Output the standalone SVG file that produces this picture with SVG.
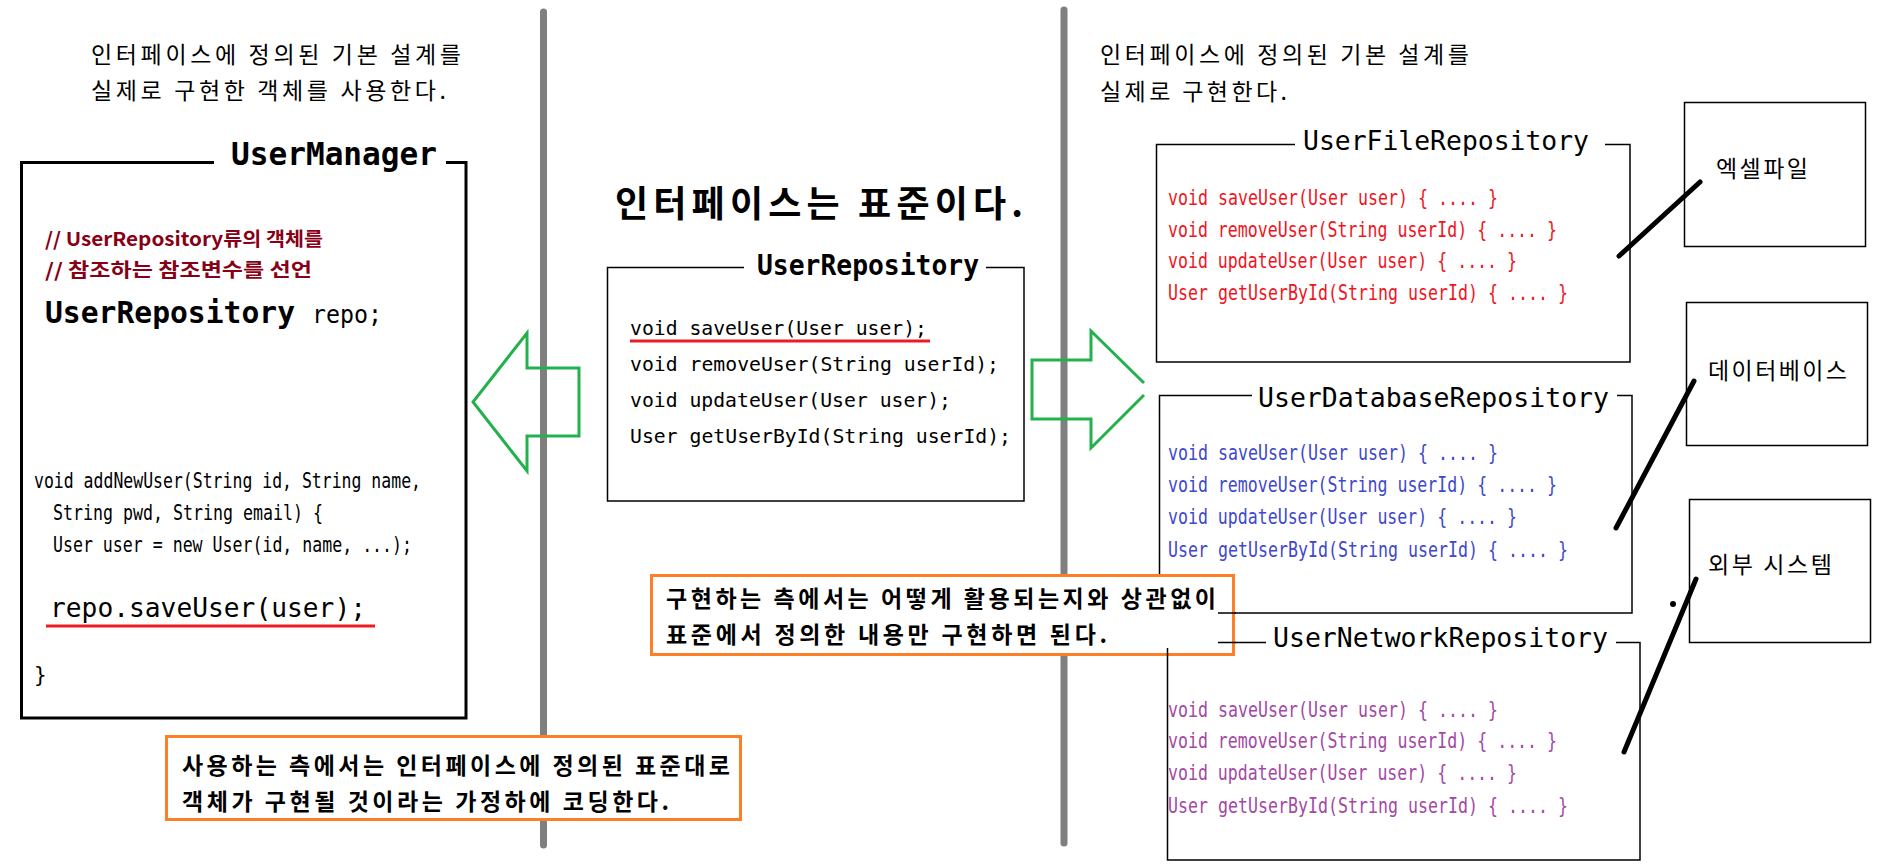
<svg xmlns="http://www.w3.org/2000/svg" width="1898" height="868" viewBox="0 0 1898 868">
<style>
.ko{font-family:"Noto Sans CJK KR","Noto Sans",sans-serif;fill:#000}
.kob{font-family:"Noto Sans CJK KR","Noto Sans",sans-serif;font-weight:bold;fill:#000}
.mono{font-family:"DejaVu Sans Mono","Liberation Mono",monospace;fill:#000}
.nar{font-family:"DejaVu Sans Mono","Liberation Mono",monospace;fill:#000}
.box{fill:none;stroke:#000;stroke-width:1.5}
.thick{fill:none;stroke:#000;stroke-width:3}
.orange{fill:#fff;stroke:#FF7F27;stroke-width:3}
.green{fill:none;stroke:#22B14C;stroke-width:3}
.link{stroke:#000;stroke-width:5;stroke-linecap:round;fill:none}
.under{stroke:#ED1C24;stroke-width:3}
.cmt{font-family:"Noto Sans CJK KR","Noto Sans",sans-serif;font-weight:bold;fill:#880015}
</style>
<rect width="1898" height="868" fill="#fff"/>
<g id="dividers" stroke="#7F7F7F" stroke-width="7" stroke-linecap="round">
<line x1="543.5" y1="12" x2="543.5" y2="845"/>
<line x1="1064" y1="10" x2="1064" y2="843"/>
</g>
<g id="captions">
<text class="ko" font-size="23" x="91" y="63" textLength="370" lengthAdjust="spacing">인터페이스에 정의된 기본 설계를</text>
<text class="ko" font-size="23" x="91" y="99" textLength="355" lengthAdjust="spacing">실제로 구현한 객체를 사용한다.</text>
<text class="ko" font-size="23" x="1100" y="63" textLength="369" lengthAdjust="spacing">인터페이스에 정의된 기본 설계를</text>
<text class="ko" font-size="23" x="1100" y="100" textLength="187" lengthAdjust="spacing">실제로 구현한다.</text>
<text class="kob" font-size="36" x="615" y="217" textLength="408" lengthAdjust="spacing">인터페이스는 표준이다.</text>
</g>
<g id="UserManager">
<path class="thick" d="M214,162.5 H21.5 V718 H466 V162.5 H446"/>
<text class="mono" font-size="32" font-weight="bold" x="231" y="165" textLength="206" lengthAdjust="spacingAndGlyphs">UserManager</text>
<text class="cmt" font-size="19" x="45" y="246" textLength="278" lengthAdjust="spacingAndGlyphs">// UserRepository류의 객체를</text>
<text class="cmt" font-size="19" x="45" y="277" textLength="267" lengthAdjust="spacingAndGlyphs">// 참조하는 참조변수를 선언</text>
<text class="mono" font-size="30" font-weight="bold" x="45" y="323" textLength="250" lengthAdjust="spacingAndGlyphs">UserRepository</text>
<text class="mono" font-size="24" x="312" y="323" textLength="70" lengthAdjust="spacingAndGlyphs">repo;</text>
<text class="nar" font-size="21" x="34" y="488" textLength="387" lengthAdjust="spacingAndGlyphs">void addNewUser(String id, String name,</text>
<text class="nar" font-size="21" x="53" y="520" textLength="270" lengthAdjust="spacingAndGlyphs">String pwd, String email) {</text>
<text class="nar" font-size="21" x="53" y="552" textLength="359" lengthAdjust="spacingAndGlyphs">User user = new User(id, name, ...);</text>
<text class="mono" font-size="27" x="50" y="617" textLength="316" lengthAdjust="spacingAndGlyphs">repo.saveUser(user);</text>
<line class="under" x1="46" y1="626" x2="375" y2="626"/>
<text class="nar" font-size="21" x="34" y="682">}</text>
</g>
<g id="UserRepository">
<path class="box" d="M744,267.5 H607.5 V501 H1024 V267.5 H986"/>
<text class="mono" font-size="28" font-weight="bold" x="757" y="275" textLength="222" lengthAdjust="spacingAndGlyphs">UserRepository</text>
<text class="mono" font-size="20" x="630" y="335" textLength="297" lengthAdjust="spacingAndGlyphs">void saveUser(User user);</text>
<line class="under" x1="630" y1="341" x2="930" y2="341"/>
<text class="mono" font-size="20" x="630" y="371" textLength="369" lengthAdjust="spacingAndGlyphs">void removeUser(String userId);</text>
<text class="mono" font-size="20" x="630" y="407" textLength="321" lengthAdjust="spacingAndGlyphs">void updateUser(User user);</text>
<text class="mono" font-size="20" x="630" y="443" textLength="381" lengthAdjust="spacingAndGlyphs">User getUserById(String userId);</text>
</g>
<g id="UserFileRepository">
<path class="box" d="M1295,144.5 H1156.5 V362 H1630 V144.5 H1605"/>
<text class="mono" font-size="26.5" x="1303" y="150" textLength="286" lengthAdjust="spacingAndGlyphs">UserFileRepository</text>
<text class="nar" font-size="20.5" x="1168" y="205" style="fill:#F0141E" textLength="330" lengthAdjust="spacingAndGlyphs">void saveUser(User user) { .... }</text>
<text class="nar" font-size="20.5" x="1168" y="237" style="fill:#F0141E" textLength="389" lengthAdjust="spacingAndGlyphs">void removeUser(String userId) { .... }</text>
<text class="nar" font-size="20.5" x="1168" y="268" style="fill:#F0141E" textLength="349" lengthAdjust="spacingAndGlyphs">void updateUser(User user) { .... }</text>
<text class="nar" font-size="20.5" x="1168" y="300" style="fill:#F0141E" textLength="400" lengthAdjust="spacingAndGlyphs">User getUserById(String userId) { .... }</text>
</g>
<g id="UserDatabaseRepository">
<path class="box" d="M1252,395.5 H1159.5 V613 H1632 V395.5 H1617"/>
<text class="mono" font-size="26.5" x="1258" y="407" textLength="351" lengthAdjust="spacingAndGlyphs">UserDatabaseRepository</text>
<text class="nar" font-size="20.5" x="1168" y="460" style="fill:#3F48CC" textLength="330" lengthAdjust="spacingAndGlyphs">void saveUser(User user) { .... }</text>
<text class="nar" font-size="20.5" x="1168" y="492" style="fill:#3F48CC" textLength="389" lengthAdjust="spacingAndGlyphs">void removeUser(String userId) { .... }</text>
<text class="nar" font-size="20.5" x="1168" y="524" style="fill:#3F48CC" textLength="349" lengthAdjust="spacingAndGlyphs">void updateUser(User user) { .... }</text>
<text class="nar" font-size="20.5" x="1168" y="557" style="fill:#3F48CC" textLength="400" lengthAdjust="spacingAndGlyphs">User getUserById(String userId) { .... }</text>
</g>
<g id="UserNetworkRepository">
<path class="box" d="M1266,642.5 H1167.5 V860 H1640 V642.5 H1616"/>
<text class="mono" font-size="26.5" x="1273" y="647" textLength="335" lengthAdjust="spacingAndGlyphs">UserNetworkRepository</text>
<text class="nar" font-size="20.5" x="1168" y="717" style="fill:#A349A4" textLength="330" lengthAdjust="spacingAndGlyphs">void saveUser(User user) { .... }</text>
<text class="nar" font-size="20.5" x="1168" y="748" style="fill:#A349A4" textLength="389" lengthAdjust="spacingAndGlyphs">void removeUser(String userId) { .... }</text>
<text class="nar" font-size="20.5" x="1168" y="780" style="fill:#A349A4" textLength="349" lengthAdjust="spacingAndGlyphs">void updateUser(User user) { .... }</text>
<text class="nar" font-size="20.5" x="1168" y="813" style="fill:#A349A4" textLength="400" lengthAdjust="spacingAndGlyphs">User getUserById(String userId) { .... }</text>
</g>
<g id="note-implement">
<rect class="orange" x="651.5" y="575.5" width="582" height="79"/>
<text class="kob" font-size="23" x="666" y="607" textLength="550" lengthAdjust="spacing">구현하는 측에서는 어떻게 활용되는지와 상관없이</text>
<text class="kob" font-size="23" x="666" y="643" textLength="441" lengthAdjust="spacing">표준에서 정의한 내용만 구현하면 된다.</text>
<path class="box" d="M1218,613 H1236 M1218,642.5 H1236 M1167.5,648 V656"/>
</g>
<g id="note-use">
<rect class="orange" x="166.5" y="736.5" width="574" height="83"/>
<text class="kob" font-size="23" x="182" y="774" textLength="548" lengthAdjust="spacing">사용하는 측에서는 인터페이스에 정의된 표준대로</text>
<text class="kob" font-size="23" x="182" y="810" textLength="487" lengthAdjust="spacing">객체가 구현될 것이라는 가정하에 코딩한다.</text>
</g>
<g id="ExcelFile">
<rect class="box" x="1684.5" y="102.5" width="181" height="144"/>
<text class="ko" font-size="23" x="1716" y="177" textLength="92" lengthAdjust="spacing">엑셀파일</text>
</g>
<g id="Database">
<rect class="box" x="1686.5" y="302.5" width="181" height="143"/>
<text class="ko" font-size="23" x="1708" y="379" textLength="139" lengthAdjust="spacing">데이터베이스</text>
</g>
<g id="ExternalSystem">
<rect class="box" x="1689.5" y="499.5" width="181" height="143"/>
<text class="ko" font-size="23" x="1708" y="573" textLength="124" lengthAdjust="spacing">외부 시스템</text>
</g>
<g id="connectors">
<polygon class="green" points="579,368 527,368 527,333 473,402 527,471 527,436 579,436"/>
<path class="green" d="M1144,383 L1091,331 V360 H1032 V419 H1091 V448 L1144,395"/>
<line class="link" x1="1619" y1="256" x2="1700" y2="182"/>
<line class="link" x1="1616" y1="528" x2="1694" y2="381"/>
<line class="link" x1="1624" y1="752" x2="1696" y2="579"/>
<circle cx="1673" cy="604" r="3" fill="#000"/>
</g>
</svg>
